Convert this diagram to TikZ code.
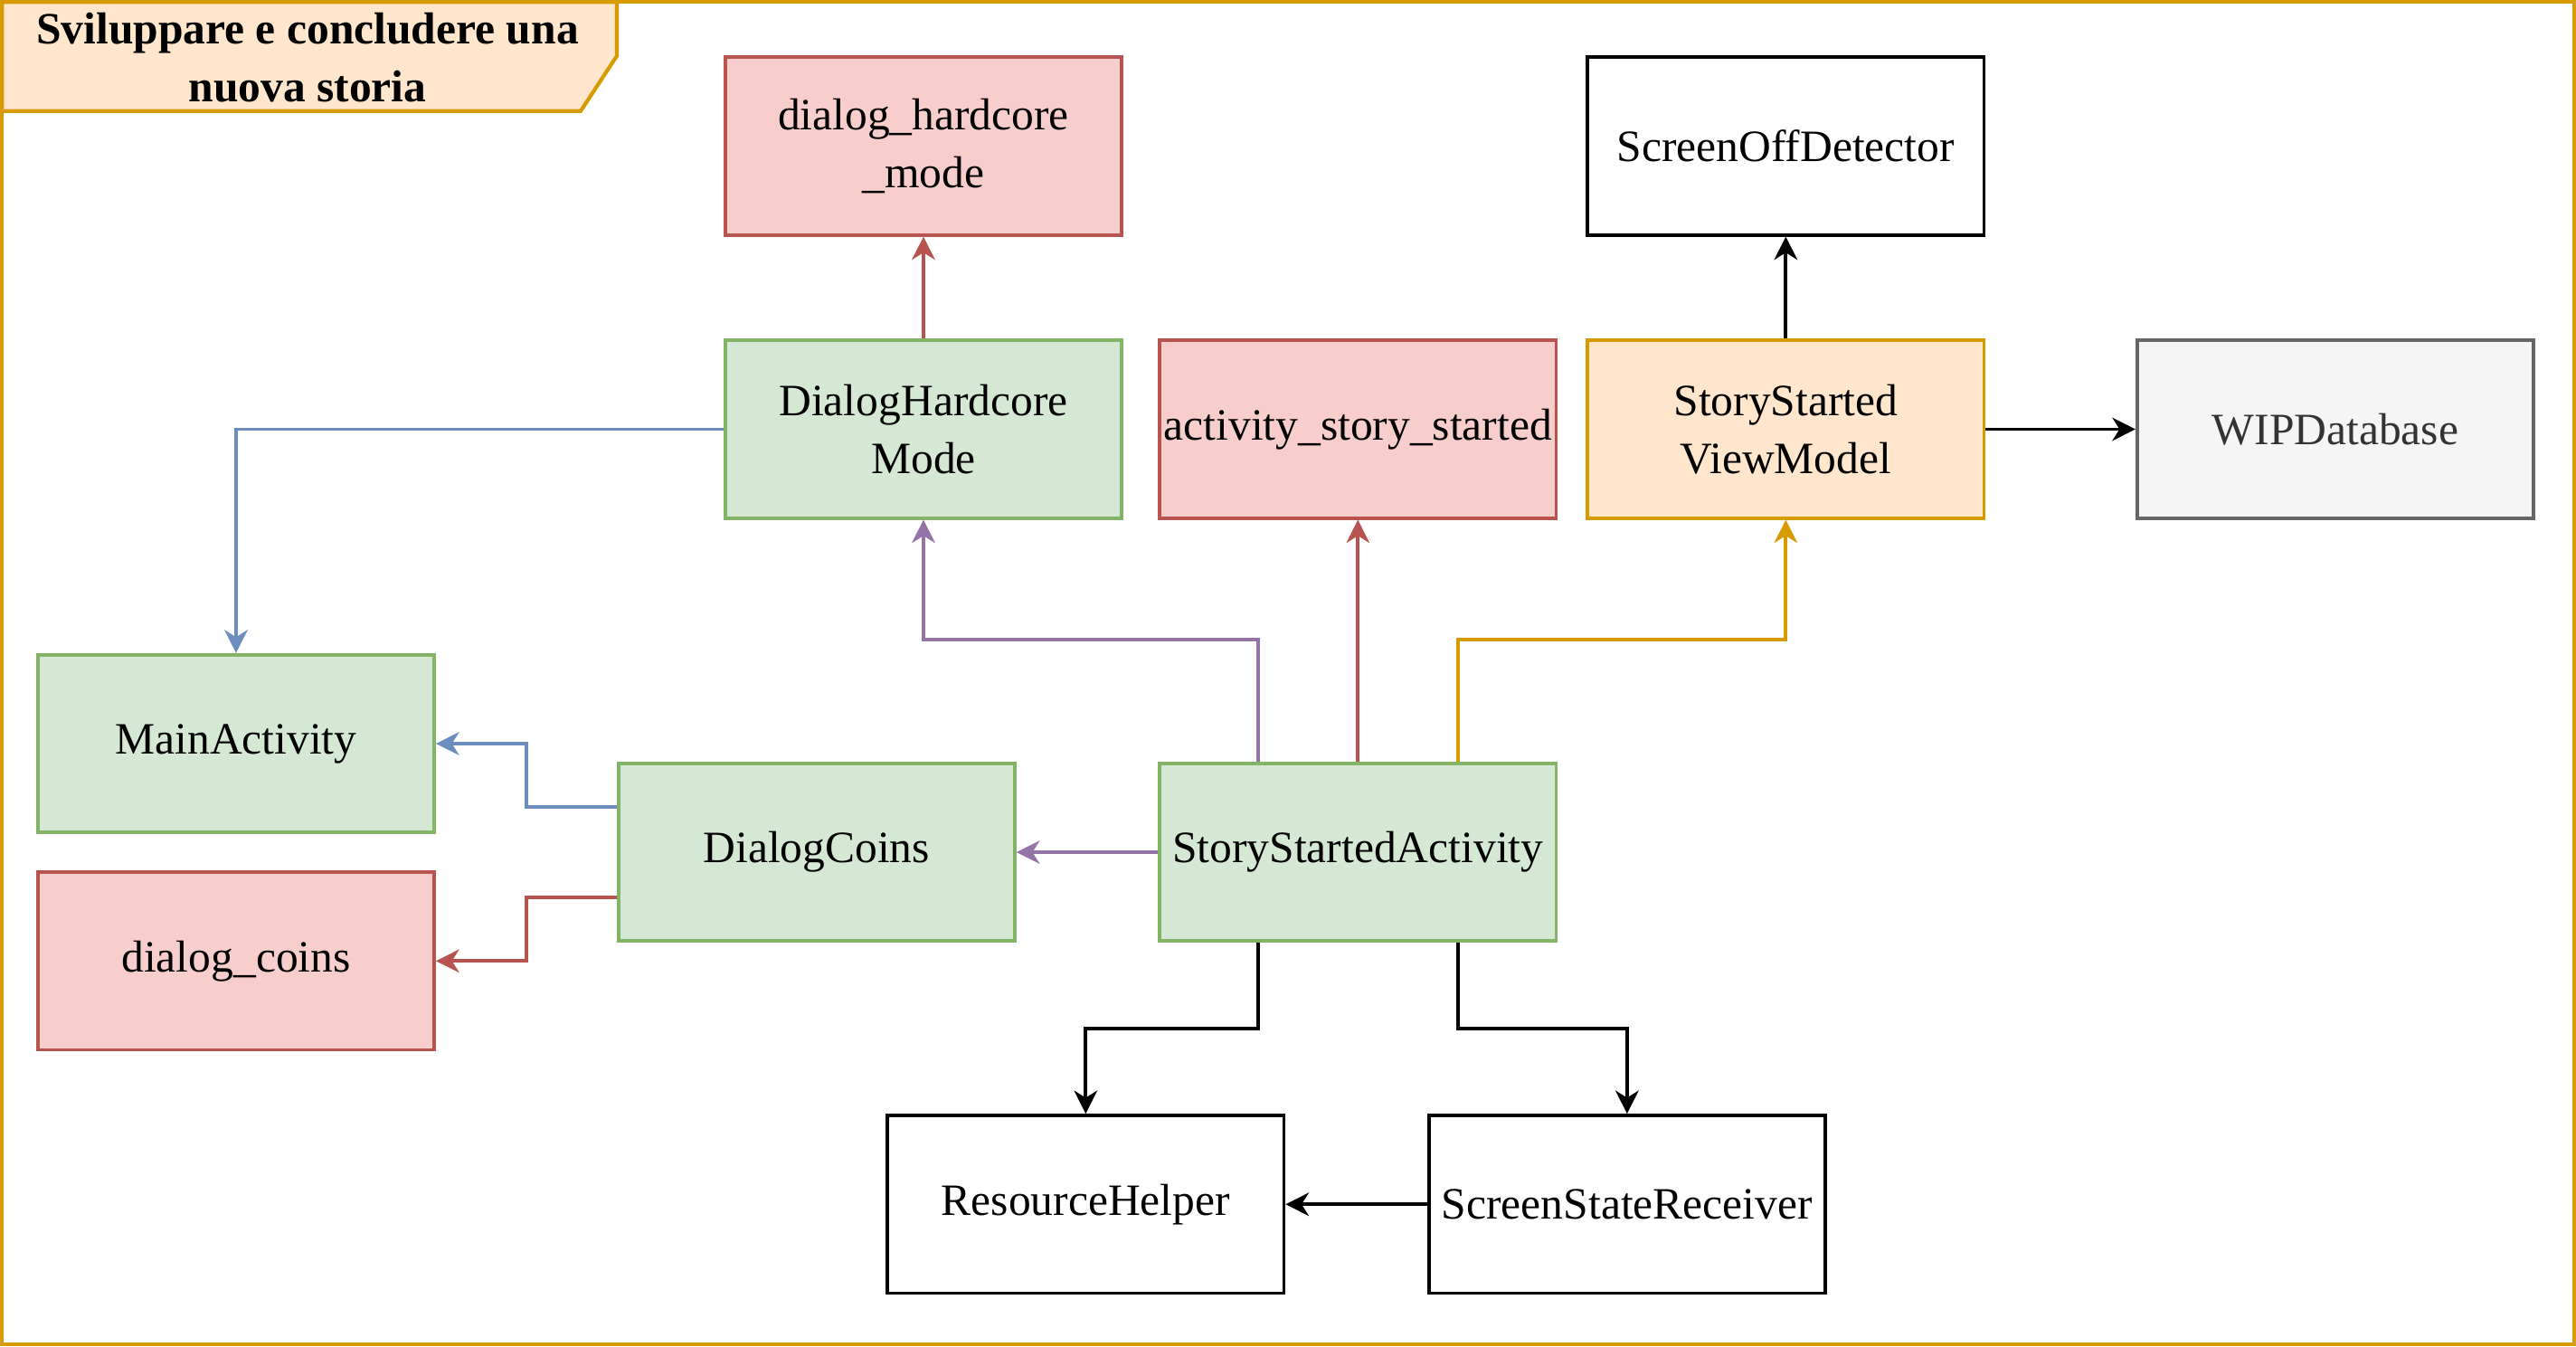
\documentclass[tikz,border=0pt]{standalone}
\usepackage{fontspec}
\setmainfont{Liberation Serif}
\usepackage{xcolor}
\usepackage{tikz}
\usetikzlibrary{shapes, arrows.meta, positioning}

\definecolor{greenfill}{HTML}{D5E8D4}
\definecolor{greendraw}{HTML}{82B366}
\definecolor{redfill}{HTML}{F8CECC}
\definecolor{reddraw}{HTML}{B85450}
\definecolor{orangefill}{HTML}{FFE6CC}
\definecolor{orangedraw}{HTML}{D79B00}
\definecolor{grayfill}{HTML}{F5F5F5}
\definecolor{graydraw}{HTML}{666666}
\definecolor{graytext}{HTML}{333333}
\definecolor{bluedraw}{HTML}{6C8EBF}
\definecolor{purpledraw}{HTML}{9673A6}

\begin{document}
\begin{tikzpicture}[
    font=\fontsize{15.5}{20}\selectfont,
    box/.style={rectangle, draw, line width=1.2pt, minimum width=4.82cm, minimum height=2.16cm, inner sep=1pt, align=center},
    classbox/.style={box, fill=greenfill, draw=greendraw},
    layoutbox/.style={box, fill=redfill, draw=reddraw},
    vmbox/.style={box, fill=orangefill, draw=orangedraw},
    dbbox/.style={box, fill=grayfill, draw=graydraw, text=graytext},
    plainbox/.style={box, fill=white, draw=black},
    arrow/.style={-{Stealth[length=8pt, width=8pt, inset=2.5pt]}, line width=1.2pt},
    ]

    % Frame and title
    \useasboundingbox (0,0) rectangle (31.32,-16.364);
    \draw[orangedraw, line width=1.3pt] (0.025,-0.025) rectangle (31.295,-16.339);
    \draw[orangedraw, fill=orangefill, line width=1.3pt] (0.025,-0.025) -- (7.5,-0.025) -- (7.5,-0.68) -- (7.06,-1.35) -- (0.025,-1.35) -- cycle;
    \node (title) [align=center, font=\fontsize{15.5}{20}\selectfont\bfseries] at (3.74,-0.7) {Sviluppare e concludere una\\nuova storia};

    % Activity and layout nodes
    \node (ssa) [classbox] at (16.51,-10.36) {StoryStartedActivity};
    \node (actlayout) [layoutbox, above=2.94cm of ssa] {activity\_story\_started};
    \node (dlghc) [classbox, left=0.42cm of actlayout] {DialogHardcore\\Mode};
    \node (vm) [vmbox, right=0.34cm of actlayout] {StoryStarted\\ViewModel};
    \node (hcmode) [layoutbox, above=1.24cm of dlghc] {dialog\_hardcore\\\_mode};
    \node (screenoff) [plainbox, above=1.24cm of vm] {ScreenOffDetector};
    \node (wipdb) [dbbox, right=1.82cm of vm] {WIPDatabase};

    % Dialog nodes
    \node (dlgcoins) [classbox, left=1.72cm of ssa] {DialogCoins};
    \node (mainact) [classbox] at (2.87,-9.04) {MainActivity};
    \node (coinslayout) [layoutbox, below=0.44cm of mainact] {dialog\_coins};

    % Helper nodes
    \node (reshelper) [plainbox] at (13.2,-14.64) {ResourceHelper};
    \node (screenrecv) [plainbox, right=1.72cm of reshelper] {ScreenStateReceiver};

    % Arrows from the activity
    \draw[arrow, purpledraw] ([xshift=-1.215cm]ssa.north) -- ++(0,1.48) -| (dlghc.south);
    \draw[arrow, reddraw] (ssa.north) -- (actlayout.south);
    \draw[arrow, orangedraw] ([xshift=1.215cm]ssa.north) -- ++(0,1.48) -| (vm.south);
    \draw[arrow, purpledraw] (ssa.west) -- (dlgcoins.east);
    \draw[arrow] ([xshift=-1.215cm]ssa.south) -- ++(0,-1.04) -| (reshelper.north);
    \draw[arrow] ([xshift=1.215cm]ssa.south) -- ++(0,-1.04) -| (screenrecv.north);
    \draw[arrow] (screenrecv.west) -- (reshelper.east);

    % Arrows from the view model
    \draw[arrow] (vm.north) -- (screenoff.south);
    \draw[arrow] (vm.east) -- (wipdb.west);

    % Arrows from the dialogs
    \draw[arrow, reddraw] (dlghc.north) -- (hcmode.south);
    \draw[arrow, bluedraw] (dlghc.west) -| (mainact.north);
    \draw[arrow, bluedraw] ([yshift=0.55cm]dlgcoins.west) -- ++(-1.1,0) |- (mainact.east);
    \draw[arrow, reddraw] ([yshift=-0.55cm]dlgcoins.west) -- ++(-1.1,0) |- (coinslayout.east);
\end{tikzpicture}
\end{document}
